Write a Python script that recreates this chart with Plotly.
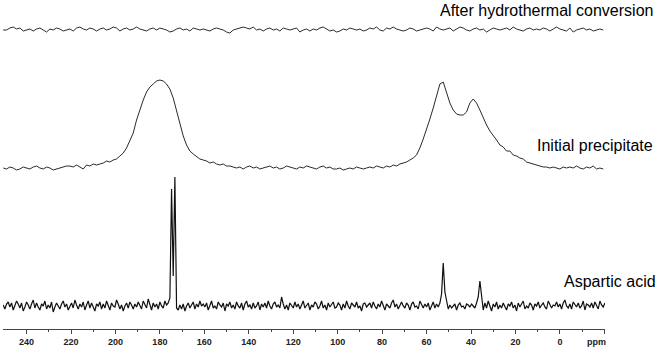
import numpy as np
import plotly.graph_objects as go

# 13C NMR spectra, intensities (arbitrary units ~ px)
# grid: first point at 250.5 ppm, going down-field to up-field
start_ppm = 250.5
step_aspartic = 0.75
step_broad = 1.5

aspartic = [
    1, -3, 2, 4, -1, 3, -4, 0, 5, 2, -2, 3, -5, -1, 4, 1, -3, 2, 6, -2,
    3, -1, -4, 2, 0, 5, -3, 1, -2, 4, -6, -1, 3, 0, -3, 2, 5, -1, 2, -4,
    0, 3, -2, 6, 1, -3, 2, -1, 4, -4, 1, 5, -2, 3, -1, -5, 2, 0, 4, -3,
    2, -2, 5, 1, -4, 3, 0, -1, 6, 2, -3, 1, -5, 0, 3, -2, 4, 1, -3, 2,
    -1, 4, 0, -3, 5, 2, -2, 7, 1, -4, 3, -1, 2, -3, 4, 0, -2, 5, 1, 3,
    8, 117, 30, 129, -2, -4, 1, -3, 2, -5, 0, 3, -2, 1, 4, -3, 2, -1, 5, 0,
    2, -1, 3, -4, 1, 5, -2, 0, -3, 4, 1, -1, 3, -5, 2, 0, 4, -2, 1, -3,
    4, 0, -2, 3, -4, 2, 5, -1, 1, -3, 3, -2, 0, 4, -4, 2, -1, 3, -2, 5,
    0, -3, 2, 4, -1, 1, -2, 9, 2, -3, 1, -4, 3, 0, -2, 4, -1, 2, -3, 1,
    5, -2, 0, 3, -4, 1, -1, 4, 2, -3, 0, 5, -2, 1, -4, 3, -1, 2, 4, -2,
    -1, 3, 1, -4, 2, -2, 5, 0, -3, 3, 1, -1, 4, -2, 0, -5, 2, 3, -1, 1,
    3, -2, 4, 0, -3, 2, -1, 5, 1, -4, 2, 0, -2, 3, 6, -1, 2, -3, 1, 4,
    0, -2, 3, 1, -4, 2, 4, -1, 0, -3, 5, 1, -2, 2, -1, 3, -4, 0, 4, -2,
    2, -1, 3, 12, 43, 14, 5, -3, 1, -2, 0, 2, -4, 1, 3, -1, 0, -3, 2, 1,
    -1, 2, 0, -2, 3, 9, 25, 8, -4, 3, -2, 5, 0, -5, 2, -1, 4, -3, 1, -2,
    3, -1, -4, 2, 0, 4, -2, 1, -5, 3, -1, 2, 5, -3, 0, -2, 3, 1, -4, 2,
    0, 4, -2, 1, 3, -1, -3, 5, 2, -2, 1, 0, 4, -1, 2, -3, 3, 6, 0, -2,
    2, -3, 4, 1, -1, 3, -2, 0, 5, -4, 2, 1, -1, 3, -2, 4, 0, -3, 5, 1,
    -1, 3,
]

initial = [
    0, -1, 1, 0, -2, -1, 1, 0, -1, 1,
    2, 0, -1, 1, 0, -2, -1, 0, 1, 2,
    2, 1, 3, 1, -1, 3, 2, 4, 3, 4,
    5, 7, 6, 8, 9, 12, 15, 20, 27, 35,
    48, 59, 68, 76, 81, 84, 87, 88, 87, 84,
    79, 70, 58, 45, 32, 23, 17, 14, 11, 9,
    8, 7, 5, 6, 4, 3, 4, 2, 2, 1,
    0, 1, -1, 1, 2, 0, 1, -1, 0, 1,
    2, 0, 1, -1, 0, 2, 1, 0, -1, 1,
    0, 2, 1, 0, -1, 1, 2, 0, 1, -1,
    -1, 0, -2, -1, 0, -1, 1, 0, -1, 0,
    1, 0, 2, 1, 0, 2, 1, 3, 2, 4,
    5, 6, 8, 10, 13, 20, 29, 38, 49, 60,
    72, 84, 86, 75, 65, 58, 54, 53, 53, 56,
    65, 69, 65, 58, 50, 43, 37, 33, 28, 23,
    21, 17, 17, 13, 12, 10, 9, 6, 5, 4,
    3, 2, 1, 1, 0, 1, 0, -1, 1, 0,
    1, 0, 2, 0, -1, 1, 0, 2, -1, 0,
    -1,
]

hydrothermal = [
    0, 0, 2, 3, 1, 2, -1, 0, 1, -1,
    1, 2, 0, -2, 1, 0, 2, 1, -1, 0,
    1, -1, 2, 3, 1, 0, 2, 1, -1, 1,
    2, 0, 1, 3, 2, -1, 1, 2, 0, 1,
    3, 1, 0, -1, 1, 2, 0, 2, 1, 0,
    -2, -1, 1, 2, 0, 1, -1, 2, 1, 0,
    1, 0, -1, 1, 2, 1, 0, -2, -3, 0,
    1, 2, 3, 2, 1, 3, 0, 1, -1, 1,
    2, 0, 1, -1, 2, 1, 0, 1, 2, -2,
    0, 1, -1, 1, 0, 2, 3, 1, -1, 0,
    -2, -1, 1, 0, 2, 1, 0, 1, -1, 0,
    2, 1, 3, 0, -1, 2, 1, 3, 1, 0,
    -1, 0, 2, 1, -1, 0, 1, 2, 1, -1,
    3, 1, 0, 1, 2, -1, 1, 3, 2, 0,
    -1, 1, 2, 0, 1, -2, 0, 2, 1, 0,
    1, 2, 0, 3, 1, 0, -1, 1, 2, 0,
    1, 0, 2, 1, -1, 1, 3, 1, 0, -1,
    2, -2, 0, 1, 2, 0, 1, -1, 0, 1,
    0,
]

labels = ["Aspartic acid", "Initial precipitate", "After hydrothermal conversion"]
offsets = [23, 161, 299]   # vertical stacking of the spectra
tick_vals = [240, 220, 200, 180, 160, 140, 120, 100, 80, 60, 40, 20, 0, -20]
tick_text = ["240", "220", "200", "180", "160", "140", "120", "100", "80", "60", "40", "20", "0", ""]
minor_vals = [230, 210, 190, 170, 150, 130, 110, 90, 70, 50, 30, 10, -10]

series = [(aspartic, step_aspartic, "#111111", 1.2),
          (initial, step_broad, "#2a2a2a", 1),
          (hydrothermal, step_broad, "#2a2a2a", 1)]

fig = go.Figure()
for (vals, step, col, lw), off in zip(series, offsets):
    vals = np.array(vals, dtype=float)
    ppm = start_ppm - step * np.arange(len(vals))
    fig.add_trace(go.Scatter(x=ppm, y=vals + off, mode="lines",
                             line=dict(color=col, width=lw), showlegend=False,
                             hoverinfo="skip"))

label_y = [48, 184, 319]
label_x = [1.088, 1.083, 1.083]
for txt, ly, lx in zip(labels, label_y, label_x):
    fig.add_annotation(text=txt, x=lx, xref="paper", y=ly, yref="y", xanchor="right",
                       yanchor="middle", showarrow=False,
                       font=dict(family="Liberation Sans, Arial", size=16, color="black"))

# axis unit, sits where the -20 label would be
fig.add_annotation(text="<b>ppm</b>", x=-16.6, xref="x", y=-0.04, yref="paper", showarrow=False,
                   xanchor="center", yanchor="middle",
                   font=dict(family="Liberation Sans, Arial", size=9, color="#222"))

fig.update_xaxes(range=[250.6, -20.3], showgrid=False, zeroline=False,
                 showline=True, linecolor="#444", linewidth=1,
                 tickmode="array", tickvals=tick_vals, ticktext=tick_text,
                 ticks="outside", ticklen=4, tickcolor="#444", tickwidth=1,
                 tickfont=dict(family="Liberation Sans, Arial", size=9, color="#222", weight="bold"),
                 minor=dict(tickmode="array", tickvals=minor_vals, ticks="outside",
                            ticklen=2, tickcolor="#444"))
fig.update_yaxes(range=[0, 329], visible=False, fixedrange=True)

fig.update_layout(width=661, height=349, margin=dict(l=3, r=56, t=0, b=20),
                  plot_bgcolor="white", paper_bgcolor="white")

# page body has a default 8px margin; remove it so the figure sits at 0,0
fig.write_html("out.html", post_script="document.body.style.margin='0';",
               config={"displayModeBar": False})
